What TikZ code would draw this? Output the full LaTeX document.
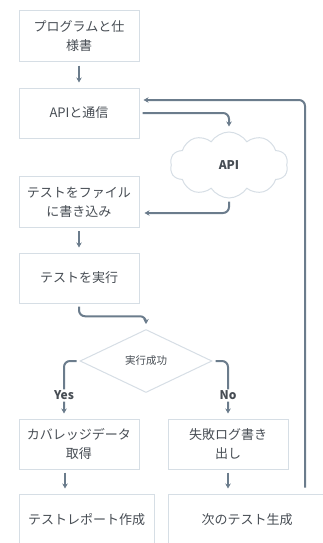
\documentclass[tikz,border=0pt]{standalone}
\usepackage{fontspec}
\setmainfont{Noto Sans CJK JP}
\usepackage{xcolor}
\usetikzlibrary{arrows.meta,positioning,shapes.geometric,shapes.symbols,calc}
\definecolor{flowslate}{HTML}{6B7C8C}
\definecolor{boxedge}{HTML}{D6DEE5}
\definecolor{inkgray}{HTML}{474D54}

\begin{document}
\begin{tikzpicture}[
  x=1pt, y=-1pt,
  font=\fontsize{13}{19}\selectfont, text=inkgray,
  stepbox/.style={draw=boxedge, line width=1pt, fill=white, align=center,
                  minimum width=120pt, minimum height=51pt, inner sep=2pt},
  apicloud/.style={cloud, cloud puffs=10, cloud puff arc=115, aspect=1.8, draw=boxedge,
                   line width=1pt, fill=white, minimum width=118pt, minimum height=66pt,
                   inner sep=0pt, font=\fontsize{12}{14}\selectfont\bfseries},
  judgebox/.style={diamond, draw=boxedge, line width=1pt, fill=white,
                   minimum width=132pt, minimum height=63pt, inner sep=0pt,
                   font=\fontsize{10.5}{12}\selectfont},
  lbl/.style={fill=white, inner sep=1.5pt, font=\fontsize{12}{14}\selectfont\bfseries},
  >={Stealth[length=5pt,width=5.5pt]},
  flow/.style={->, line width=2pt, draw=flowslate, rounded corners=6pt,
               shorten <=3pt, shorten >=5pt},
]
\useasboundingbox (0,0) rectangle (323,543);
\clip (0,0) rectangle (323,543);
% ----- main column -----
\node[stepbox] (prog) at (79,36.5) {プログラムと仕\\様書};
\node[stepbox, minimum height=50pt] (apicall) at (79,113) {APIと通信};
\node[apicloud] (apisrv) at (229,165) {API};
\node[stepbox] (writefile) at (79,202) {テストをファイル\\に書き込み};
\node[stepbox, minimum height=50pt] (runtest) at (79,278) {テストを実行};
% ----- decision -----
\node[judgebox] (judge) at (146,361) {実行成功};
\node[stepbox, minimum height=50pt] (coverage) at (79,444) {カバレッジデータ\\取得};
\node[stepbox, minimum height=50pt] (faillog) at (228,444) {失敗ログ書き\\出し};
\node[stepbox, minimum width=135pt, minimum height=52pt] (report) at (86.5,520) {テストレポート作成};
\node[stepbox, minimum width=158pt, minimum height=52pt] (nextgen) at (247,520) {次のテスト生成};
% ----- connectors -----
\draw[flow] (prog) -- (apicall);
\draw[flow] (apicall.east) -| (apisrv.north);
\draw[flow] (apisrv.south) |- ([yshift=-11pt]writefile.east);
\draw[flow] (writefile) -- (runtest);
\draw[flow] (runtest.south) |- ($(runtest.south)!0.5!(judge.north)$) -| (judge.north);
\draw[flow] (judge.west) -| node[lbl, pos=0.8]{Yes} ([xshift=-15pt]coverage.north);
\draw[flow] (judge.east) -| node[lbl, pos=0.8]{No} (faillog.north);
\draw[flow] ([xshift=-14pt]coverage.south) -- ([xshift=-14pt]coverage.south |- report.north);
\draw[flow] (faillog.south) -- (faillog.south |- nextgen.north);
% ----- loop back -----
\draw[flow, shorten <=6pt, shorten >=4pt] ([xshift=58pt]nextgen.north) |- ([yshift=13pt]apicall.east);
\end{tikzpicture}
\end{document}
